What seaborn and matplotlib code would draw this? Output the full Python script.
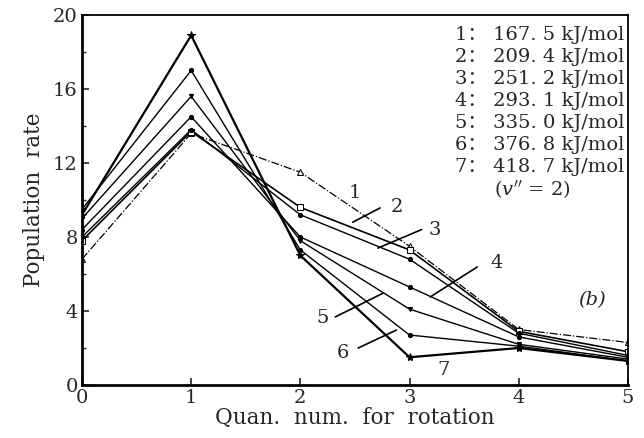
import matplotlib
matplotlib.use("Agg")
import matplotlib.pyplot as plt
import seaborn as sns
import pandas as pd

# ---- data ----
rot_quantum = [0, 1, 2, 3, 4, 5]
line_1 = [6.8, 13.6, 11.5, 7.5, 3.0, 2.3]
line_2 = [7.8, 13.7, 9.6, 7.3, 2.9, 1.8]
line_3 = [8.0, 13.8, 9.2, 6.8, 2.8, 1.6]
line_4 = [8.4, 14.5, 8.0, 5.3, 2.6, 1.5]
line_5 = [9.0, 15.6, 7.8, 4.1, 2.2, 1.4]
line_6 = [9.5, 17.0, 7.3, 2.7, 2.1, 1.3]
line_7 = [9.2, 18.9, 7.0, 1.5, 2.0, 1.3]
series = [line_1, line_2, line_3, line_4, line_5, line_6, line_7]
series_ids = ["1", "2", "3", "4", "5", "6", "7"]
energies = ["167. 5", "209. 4", "251. 2", "293. 1", "335. 0", "376. 8", "418. 7"]
y_ticks = [0, 4, 8, 12, 16, 20]
x_ticks = [0, 1, 2, 3, 4, 5]

rows = []
for sid, vals in zip(series_ids, series):
    for xq, v in zip(rot_quantum, vals):
        rows.append({"x": xq, "y": v, "line": sid})
df = pd.DataFrame(rows)

sns.set_theme(style="white")
plt.rcParams["font.family"] = ["DejaVu Serif", "Noto Sans CJK SC"]
plt.rcParams["mathtext.fontset"] = "dejavuserif"

fig = plt.figure(figsize=(6.44, 4.38), dpi=100)
ax = fig.add_axes([0.1273, 0.121, 0.8477, 0.8448])

markers = {"1": "^", "2": "s", "3": "o", "4": "o", "5": "v", "6": "o", "7": "*"}
msizes = {"1": 5, "2": 5, "3": 3, "4": 3, "5": 3, "6": 3, "7": 6}
lstyles = {"1": "-.", "2": "-", "3": "-", "4": "-", "5": "-", "6": "-", "7": "-"}
lwidths = {"1": 0.9, "2": 1.2, "3": 1.0, "4": 1.0, "5": 1.0, "6": 1.0, "7": 1.6}
mfc = {"1": "white", "2": "white", "3": "black", "4": "black", "5": "black", "6": "black", "7": "black"}

for sid in series_ids:
    sub = df[df["line"] == sid]
    sns.lineplot(data=sub, x="x", y="y", ax=ax, color="black",
                 linestyle=lstyles[sid], linewidth=lwidths[sid],
                 marker=markers[sid], markersize=msizes[sid],
                 markerfacecolor=mfc[sid], markeredgecolor="black",
                 legend=False)

ax.set_xlim(0, 5)
ax.set_ylim(0, 20)
ax.set_xticks(x_ticks)
ax.set_yticks(y_ticks)
ax.set_yticks([2, 6, 10, 14, 18], minor=True)
ax.tick_params(axis="both", which="major", direction="in", length=5, width=1.2,
               labelsize=14, pad=3, left=True, bottom=True)
ax.tick_params(axis="y", which="minor", direction="in", length=3, width=1, left=True)
for side in ["left", "bottom"]:
    ax.spines[side].set_linewidth(2.0)
for side in ["top", "right"]:
    ax.spines[side].set_linewidth(1.3)
for s in ax.spines.values():
    s.set_color("black")
    s.set_visible(True)

ax.set_xlabel("Quan.  num.  for  rotation", fontsize=15.5, labelpad=0)
ax.set_ylabel("Population  rate", fontsize=15.5, labelpad=6)

# legend-like text block
legend_lines = [f"{sid}\uff1a {e} kJ/mol" for sid, e in zip(series_ids, energies)]
for i, txt in enumerate(legend_lines):
    ax.text(0.993, 0.945 - i * 0.0595, txt, transform=ax.transAxes,
            ha="right", va="center", fontsize=14)
ax.text(0.824, 0.945 - 7 * 0.0595, r"($v''$ = 2)", transform=ax.transAxes,
        ha="center", va="center", fontsize=14)

# series labels with leader lines
label_pos = {"1": (2.50, 10.4), "2": (2.88, 9.6), "3": (3.23, 8.4), "4": (3.80, 6.6),
             "5": (2.20, 3.6), "6": (2.39, 1.73), "7": (3.31, 0.81)}
leaders = {"2": ((2.48, 8.8), (2.73, 9.57)), "3": ((2.71, 7.4), (3.11, 8.4)),
           "4": ((3.19, 4.76), (3.62, 6.38)), "5": ((2.32, 3.68), (2.76, 4.97)),
           "6": ((2.53, 2.0), (2.88, 2.97))}
for sid, (lx, ly) in label_pos.items():
    ax.text(lx, ly, sid, ha="center", va="center", fontsize=14)
for sid, (p0, p1) in leaders.items():
    ax.plot([p0[0], p1[0]], [p0[1], p1[1]], color="black", linewidth=1.2)

ax.text(4.67, 4.6, "(b)", ha="center", va="center", fontsize=14, style="italic")

fig.savefig("out.png", dpi=100)
